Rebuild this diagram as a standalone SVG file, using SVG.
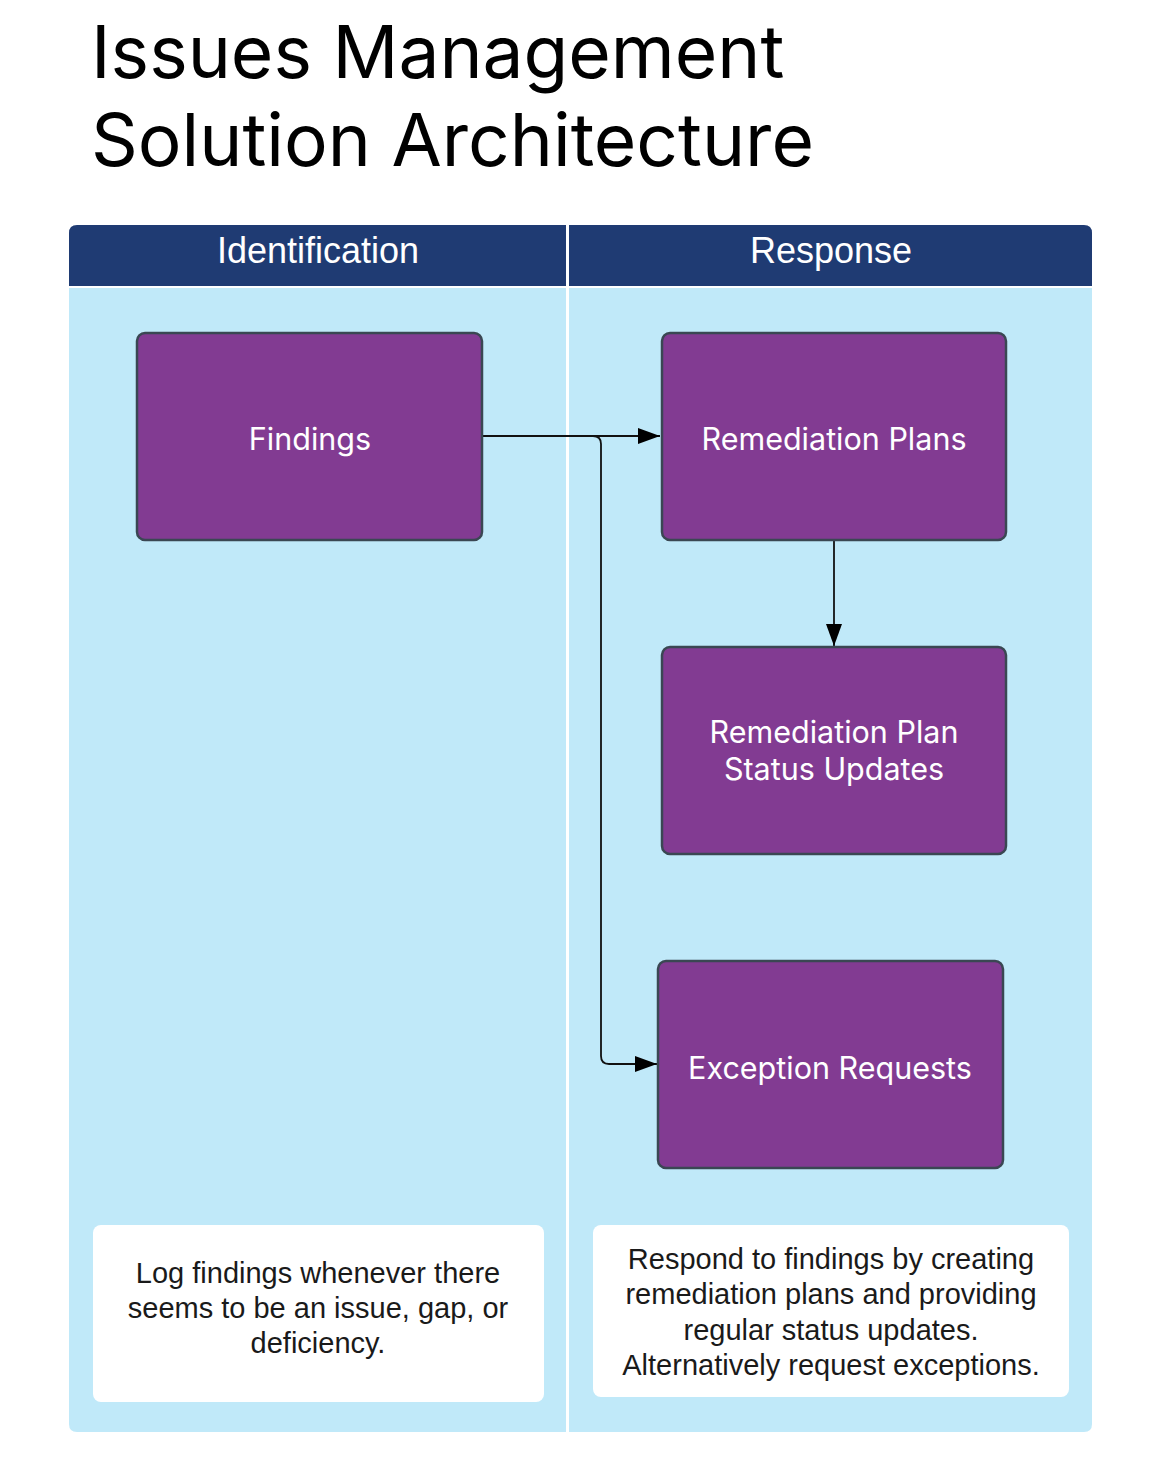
<svg xmlns="http://www.w3.org/2000/svg" width="1154" height="1474" viewBox="0 0 1154 1474">
<style>
.title{font-family:Inter,"Noto Sans",sans-serif;font-size:73px;fill:#000;}
.lanehead{fill:#1f3b73;}
.lanebody{fill:#c0e9f9;}
.lanetext{font-family:"Liberation Sans",Arial,sans-serif;font-size:36px;fill:#fff;text-anchor:middle;}
.node rect{fill:#823b92;stroke:#3a4753;stroke-width:2.5;}
.node text{font-family:Inter,"Noto Sans",sans-serif;font-size:30.5px;fill:#fff;text-anchor:middle;}
.note rect{fill:#fff;}
.note text{font-family:"Liberation Sans",Arial,sans-serif;font-size:29px;fill:#1a1a1a;text-anchor:middle;}
.conn{fill:none;stroke:#111;stroke-width:1.8;}
</style>
<defs>
<marker id="arrow" viewBox="0 0 22 16" refX="22" refY="8" markerWidth="22" markerHeight="16" markerUnits="userSpaceOnUse" orient="auto">
<path d="M0,0 L22,8 L0,16 Z" fill="#000"/>
</marker>
</defs>
<rect width="1154" height="1474" fill="#fff"/>
<g id="title">
<text class="title" x="91" y="78">Issues Management</text>
<text class="title" x="91" y="166">Solution Architecture</text>
</g>
<g id="lane-identification">
<path class="lanehead" d="M69,286 V233 Q69,225 77,225 H566 V286 Z"/>
<path class="lanebody" d="M69,288 H566 V1432 H77 Q69,1432 69,1424 Z"/>
<text class="lanetext" x="318" y="263">Identification</text>
</g>
<g id="lane-response">
<path class="lanehead" d="M569,225 H1084 Q1092,225 1092,233 V286 H569 Z"/>
<path class="lanebody" d="M569,288 H1092 V1424 Q1092,1432 1084,1432 H569 Z"/>
<text class="lanetext" x="831" y="263">Response</text>
</g>
<g id="connectors">
<path class="conn" d="M482,436 H660" marker-end="url(#arrow)"/>
<path class="conn" d="M482,436 H593 Q601,436 601,444 V1056 Q601,1064 609,1064 H657" marker-end="url(#arrow)"/>
<path class="conn" d="M834,541 V646" marker-end="url(#arrow)"/>
</g>
<g id="node-findings" class="node">
<rect x="137" y="333" width="345" height="207" rx="8"/>
<text x="310" y="450">Findings</text>
</g>
<g id="node-remediation-plans" class="node">
<rect x="662" y="333" width="344" height="207" rx="8"/>
<text x="834" y="450">Remediation Plans</text>
</g>
<g id="node-status-updates" class="node">
<rect x="662" y="647" width="344" height="207" rx="8"/>
<text x="834" y="743">Remediation Plan</text>
<text x="834" y="780">Status Updates</text>
</g>
<g id="node-exception-requests" class="node">
<rect x="658" y="961" width="345" height="207" rx="8"/>
<text x="830" y="1079">Exception Requests</text>
</g>
<g id="note-identification" class="note">
<rect x="93" y="1225" width="451" height="177" rx="8"/>
<text x="318" y="1283">Log findings whenever there</text>
<text x="318" y="1318">seems to be an issue, gap, or</text>
<text x="318" y="1353">deficiency.</text>
</g>
<g id="note-response" class="note">
<rect x="593" y="1225" width="476" height="172" rx="8"/>
<text x="831" y="1269">Respond to findings by creating</text>
<text x="831" y="1304">remediation plans and providing</text>
<text x="831" y="1340">regular status updates.</text>
<text x="831" y="1375">Alternatively request exceptions.</text>
</g>
</svg>
